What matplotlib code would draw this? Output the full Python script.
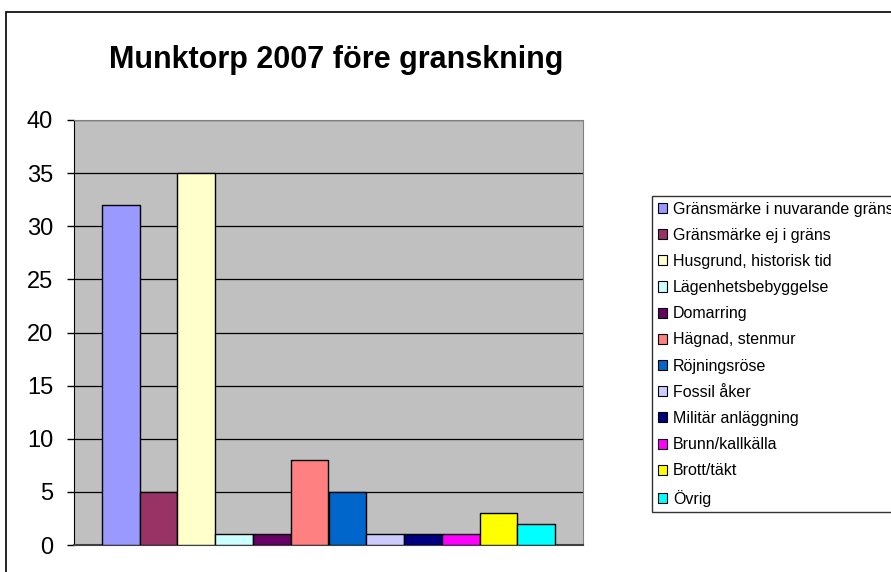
import numpy as np
import matplotlib.pyplot as plt
from matplotlib.patches import Rectangle, Patch

plt.rcParams['font.family'] = ['Liberation Sans', 'DejaVu Sans']

# Data
labels = ['Gränsmärke i nuvarande gräns', 'Gränsmärke ej i gräns',
          'Husgrund, historisk tid', 'Lägenhetsbebyggelse', 'Domarring',
          'Hägnad, stenmur', 'Röjningsröse', 'Fossil åker',
          'Militär anläggning', 'Brunn/kallkälla', 'Brott/täkt', 'Övrig']
values = [32, 5, 35, 1, 1, 8, 5, 1, 1, 1, 3, 2]
colors = ['#9999FF', '#993366', '#FFFFCC', '#CCFFFF', '#660066', '#FF8080',
          '#0066CC', '#CCCCFF', '#000080', '#FF00FF', '#FFFF00', '#00FFFF']
yticks = [0, 5, 10, 15, 20, 25, 30, 35, 40]

W, H = 891, 572
fig = plt.figure(figsize=(W / 100, H / 100), dpi=100)

# outer chart border (cut off at right and bottom like the original)
fig.patches.append(Rectangle((6 / W, -0.1), 1.2, 1 - 12 / H + 0.1,
                             transform=fig.transFigure, fill=False,
                             edgecolor='black', linewidth=1.2))

ax = fig.add_axes([74 / W, 27 / H, 509 / W, 425 / H])
ax.set_facecolor('#C0C0C0')

n = len(values)
group = 0.89
bw = group / n
x = -group / 2 + bw / 2 + np.arange(n) * bw
for xi, v, c in zip(x, values, colors):
    ax.bar(xi, v, width=bw, color=c, edgecolor='black', linewidth=1.0, zorder=3)

ax.set_xlim(-0.5, 0.5)
ax.set_ylim(0, 40)
ax.set_yticks(yticks)
ax.set_yticklabels([str(t) for t in yticks], fontsize=17)
ax.set_xticks([])
ax.yaxis.grid(True, color='black', linewidth=0.9, zorder=1)
ax.set_axisbelow(True)
ax.tick_params(axis='y', direction='out', length=5, width=1, pad=10)
for s in ['top', 'right']:
    ax.spines[s].set_color('#808080')
ax.spines['left'].set_color('black')
ax.spines['bottom'].set_color('#404040')
ax.spines['bottom'].set_linewidth(1.5)

fig.text(336 / W, 1 - 60 / H, 'Munktorp 2007 före granskning', fontsize=22,
         fontweight='bold', ha='center', va='center')

handles = [Patch(facecolor=c, edgecolor='black', linewidth=0.8, label=l)
           for c, l in zip(colors, labels)]
leg = fig.legend(handles=handles, loc='upper left',
                 bbox_to_anchor=(652 / W, 1 - 196 / H), fontsize=11.5,
                 frameon=True, fancybox=False, shadow=False,
                 handlelength=0.6, handleheight=0.6, handletextpad=0.36,
                 labelspacing=0.7, borderpad=0.35, borderaxespad=0)
leg.get_frame().set_edgecolor('black')
leg.get_frame().set_linewidth(1.0)

fig.savefig('out.png', dpi=100)
